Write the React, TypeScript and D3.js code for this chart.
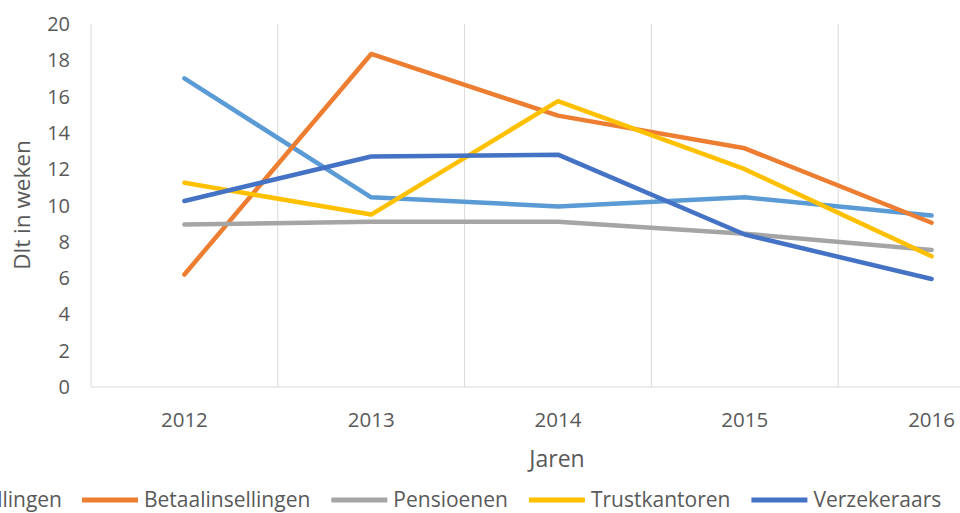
import React, { useEffect, useRef } from 'react';
import * as d3 from 'd3';

const years = ['2012', '2013', '2014', '2015', '2016'];
const seriesNames = ['Bankinstellingen', 'Betaalinsellingen', 'Pensioenen', 'Trustkantoren', 'Verzekeraars'];
const seriesColors = ['#5B9BD5', '#ED7D31', '#A5A5A5', '#FFC000', '#4472C4'];
const bankinstellingen = [17.0, 10.45, 9.95, 10.45, 9.45];
const betaalinstellingen = [6.2, 18.35, 14.95, 13.15, 9.05];
const pensioenen = [8.95, 9.1, 9.1, 8.45, 7.55];
const trustkantoren = [11.25, 9.5, 15.75, 12.0, 7.2];
const verzekeraars = [10.25, 12.7, 12.8, 8.4, 5.95];
const yTicks = [0, 2, 4, 6, 8, 10, 12, 14, 16, 18, 20];

const seriesValues = [bankinstellingen, betaalinstellingen, pensioenen, trustkantoren, verzekeraars];

const FONT = "'Open Sans', sans-serif";
const TEXT = '#595959';

const App: React.FC = () => {
  const ref = useRef<SVGSVGElement>(null);

  useEffect(() => {
    const width = 960;
    const height = 513;
    const svg = d3.select(ref.current).attr('width', width).attr('height', height);
    svg.selectAll('*').remove();

    // plot area runs past the right edge, as in the cropped original
    const left = 91;
    const right = 1025;
    const top = 24;
    const bottom = 387;

    const x = d3.scaleBand<string>().domain(years).range([left, right]);
    const y = d3.scaleLinear().domain([0, 20]).range([bottom, top]);

    // vertical gridlines at category boundaries
    const bounds = years.map(d => x(d) as number).concat([right]);
    svg.append('g')
      .selectAll('line')
      .data(bounds)
      .join('line')
      .attr('x1', d => d).attr('x2', d => d)
      .attr('y1', top).attr('y2', bottom)
      .attr('stroke', '#d9d9d9')
      .attr('stroke-width', 1);

    svg.append('line')
      .attr('x1', left).attr('x2', right)
      .attr('y1', bottom).attr('y2', bottom)
      .attr('stroke', '#d9d9d9')
      .attr('stroke-width', 1);

    // y tick labels
    svg.append('g')
      .selectAll('text')
      .data(yTicks)
      .join('text')
      .attr('x', 70)
      .attr('y', d => y(d))
      .attr('dy', '0.35em')
      .attr('text-anchor', 'end')
      .attr('font-family', FONT)
      .attr('font-size', 20)
      .attr('fill', TEXT)
      .text(d => d);

    // x tick labels
    svg.append('g')
      .selectAll('text')
      .data(years)
      .join('text')
      .attr('x', d => (x(d) as number) + x.bandwidth() / 2)
      .attr('y', 420)
      .attr('dy', '0.35em')
      .attr('text-anchor', 'middle')
      .attr('font-family', FONT)
      .attr('font-size', 20.5)
      .attr('fill', TEXT)
      .text(d => d);

    svg.append('text')
      .attr('x', 557)
      .attr('y', 459)
      .attr('dy', '0.35em')
      .attr('text-anchor', 'middle')
      .attr('font-family', FONT)
      .attr('font-size', 23)
      .attr('fill', TEXT)
      .text('Jaren');

    svg.append('text')
      .attr('transform', `translate(22,205) rotate(-90)`)
      .attr('dy', '0.35em')
      .attr('text-anchor', 'middle')
      .attr('font-family', FONT)
      .attr('font-size', 22.5)
      .attr('fill', TEXT)
      .text('Dlt in weken');

    const line = d3.line<number>()
      .x((_, i) => (x(years[i]) as number) + x.bandwidth() / 2)
      .y(d => y(d));

    svg.append('g')
      .selectAll('path')
      .data(seriesValues)
      .join('path')
      .attr('d', d => line(d))
      .attr('fill', 'none')
      .attr('stroke', (_, i) => seriesColors[i])
      .attr('stroke-width', 4.5)
      .attr('stroke-linecap', 'round')
      .attr('stroke-linejoin', 'round');

    // legend
    const legendY = 500;
    const legendSize = 21;
    const swatch = 56;
    const gapText = 6;
    const lg = svg.append('g');
    const widths = seriesNames.map(name => {
      const t = lg.append('text')
        .attr('font-family', FONT)
        .attr('font-size', legendSize)
        .text(name);
      const w = (t.node() as SVGTextElement).getComputedTextLength();
      t.remove();
      return w;
    });
    const gapItem = 21;
    const starts: number[] = [];
    let cx = 82;
    widths.forEach((w, i) => {
      if (i === 0) return;
      starts[i] = cx;
      cx += swatch + gapText + w + gapItem;
    });
    starts[0] = 62 - widths[0] - gapText - swatch;

    seriesNames.forEach((name, i) => {
      lg.append('line')
        .attr('x1', starts[i]).attr('x2', starts[i] + swatch)
        .attr('y1', legendY).attr('y2', legendY)
        .attr('stroke', seriesColors[i])
        .attr('stroke-width', 5);
      lg.append('text')
        .attr('x', starts[i] + swatch + gapText)
        .attr('y', legendY)
        .attr('dy', '0.35em')
        .attr('font-family', FONT)
        .attr('font-size', legendSize)
        .attr('fill', TEXT)
        .text(name);
    });
  }, []);

  return (
    <div style={{ position: 'absolute', left: 0, top: 0, width: 960, height: 513, overflow: 'hidden', background: '#fff' }}>
      <svg ref={ref} style={{ display: 'block' }} />
    </div>
  );
};

export default App;
